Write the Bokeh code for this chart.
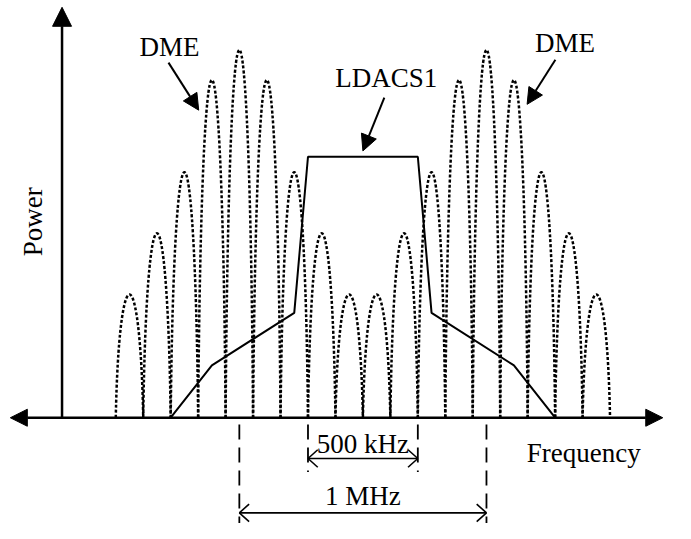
from bokeh.plotting import figure
from bokeh.models import Range1d, Label, Arrow, NormalHead, ColumnDataSource
from bokeh.embed import file_html
from bokeh.resources import INLINE

# ---- data (schematic spectrum) ----
# DME lobes: lobe k spans frequency units [k, k+1]; peak power of each lobe
dme_lobe_start = list(range(18))
dme_peak = [127, 190, 253, 348, 379, 348, 253, 190, 127,
            127, 190, 253, 348, 379, 348, 253, 190, 127]
# LDACS1 spectral mask (frequency units, power)
ldacs_f = [2.0, 3.5, 6.5, 7.0, 11.0, 11.5, 14.5, 16.0]
ldacs_p = [0, 54, 108, 269, 269, 108, 54, 0]
# bandwidth markers (frequency units)
bw_500k = (7.0, 11.0)
bw_1M = (4.5, 13.5)

FONT = "Liberation Serif"
FS = "27px"

p = figure(width=675, height=523, output_backend="svg", toolbar_location=None,
           x_range=Range1d(-4.198, 20.384), y_range=Range1d(-109, 430),
           min_border=0, outline_line_color=None)
p.xaxis.visible = False
p.yaxis.visible = False
p.grid.visible = False
p.background_fill_color = "white"
p.border_fill_color = "white"

# DME lobes as cubic bezier curves
a = 0.12
x0 = [k for k in dme_lobe_start]
x1 = [k + 1 for k in dme_lobe_start]
src = ColumnDataSource(dict(
    x0=x0, y0=[0] * len(x0), x1=x1, y1=[0] * len(x0),
    cx0=[k + a for k in x0], cy0=[h * 4 / 3 for h in dme_peak],
    cx1=[k + 1 - a for k in x0], cy1=[h * 4 / 3 for h in dme_peak],
))
p.bezier(x0="x0", y0="y0", x1="x1", y1="y1", cx0="cx0", cy0="cy0", cx1="cx1", cy1="cy1",
         source=src, line_color="black", line_width=2.5, line_dash="3 2")

# LDACS1 mask
p.line(ldacs_f, ldacs_p, line_color="black", line_width=2)

# axes with arrows
p.add_layout(Arrow(start=NormalHead(size=17, fill_color="black", line_color="black"),
                   end=NormalHead(size=17, fill_color="black", line_color="black"),
                   x_start=-3.84, y_start=0, x_end=19.92, y_end=0,
                   line_width=2.5, line_color="black"))
p.add_layout(Arrow(end=NormalHead(size=19, fill_color="black", line_color="black"),
                   x_start=-1.957, y_start=0, x_end=-1.957, y_end=423,
                   line_width=2.5, line_color="black"))

# pointer arrows
for xs, ys, xe, ye in [(1.92, 366, 3.02, 317), (16.01, 369, 14.98, 323), (9.78, 330, 9.0, 275)]:
    p.add_layout(Arrow(end=NormalHead(size=16, fill_color="black", line_color="black"),
                       x_start=xs, y_start=ys, x_end=xe, y_end=ye,
                       line_width=2, line_color="black"))

# dashed bandwidth marker lines
p.segment(x0=[bw_500k[0], bw_500k[1]], y0=[-7, -7], x1=[bw_500k[0], bw_500k[1]], y1=[-56, -56],
          line_color="black", line_width=1.8, line_dash="15 8")
p.segment(x0=[bw_1M[0], bw_1M[1]], y0=[-7, -7], x1=[bw_1M[0], bw_1M[1]], y1=[-110, -110],
          line_color="black", line_width=1.8, line_dash="15 8")

# dimension arrows (open heads)
dx, dy = 0.356, 9
for (fa, fb), yy in [(bw_500k, -42), (bw_1M, -98)]:
    p.segment(x0=[fa], y0=[yy], x1=[fb], y1=[yy], line_color="black", line_width=1.6)
    p.segment(x0=[fa, fa, fb, fb], y0=[yy] * 4,
              x1=[fa + dx, fa + dx, fb - dx, fb - dx], y1=[yy + dy, yy - dy, yy + dy, yy - dy],
              line_color="black", line_width=1.6)

# labels
def lab(x, y, t, angle=0.0):
    p.add_layout(Label(x=x, y=y, text=t, text_font=FONT, text_font_size=FS,
                       text_align="center", text_baseline="middle", angle=angle,
                       text_color="black"))

lab(1.957, 382, "DME")
lab(16.36, 386, "DME")
lab(9.85, 350, "LDACS1")
lab(-3.02, 202, "Power", angle=1.5708)
lab(17.04, -36, "Frequency")
lab(9.0, -27, "500 kHz")
lab(9.0, -81, "1 MHz")

open("out.html", "w").write(file_html(p, INLINE))
